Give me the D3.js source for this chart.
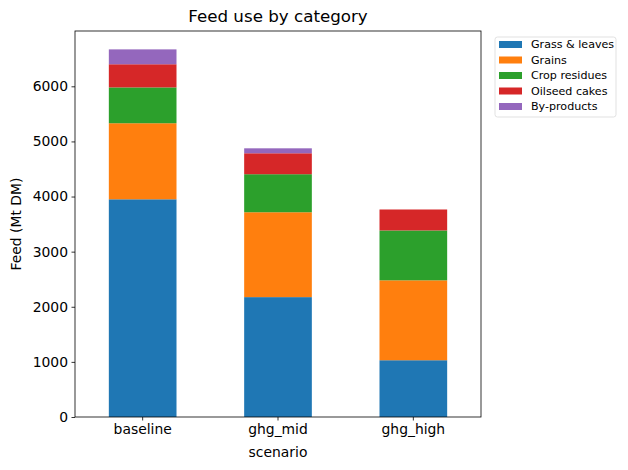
<!DOCTYPE html>
<html>
<head>
<meta charset="utf-8">
<script src="https://cdn.jsdelivr.net/npm/d3@7"></script>
<style>
  body { margin: 0; background: #fff; }
  text { font-family: "DejaVu Sans", sans-serif; }
</style>
</head>
<body>
<svg id="chart" width="628" height="470"></svg>
<script>
const scenarios = ['baseline', 'ghg_mid', 'ghg_high'];
const categories = ['Grass & leaves', 'Grains', 'Crop residues', 'Oilseed cakes', 'By-products'];
const colors = ['#1f77b4', '#ff7f0e', '#2ca02c', '#d62728', '#9467bd'];
const grassLeaves = [3950, 2175, 1030];
const grains = [1380, 1540, 1450];
const cropResidues = [650, 690, 905];
const oilseedCakes = [420, 380, 380];
const byProducts = [270, 90, 0];
const yTicks = [0, 1000, 2000, 3000, 4000, 5000, 6000];

const series = [grassLeaves, grains, cropResidues, oilseedCakes, byProducts];
const rows = scenarios.map((s, i) => {
  const r = { scenario: s };
  categories.forEach((c, j) => { r[c] = series[j][i]; });
  return r;
});

const svg = d3.select('#chart');
const margin = { left: 75, right: 147, top: 31, bottom: 53 };
const W = 628, H = 470;

const stacked = d3.stack().keys(categories)(rows);
const maxTotal = d3.max(rows, r => d3.sum(categories, c => r[c]));

const x = d3.scaleBand().domain(scenarios)
  .range([margin.left, W - margin.right])
  .paddingInner(0.5).paddingOuter(0.25);
const y = d3.scaleLinear().domain([0, maxTotal * 1.05])
  .range([H - margin.bottom, margin.top]);

const color = d3.scaleOrdinal().domain(categories).range(colors);

// bars
svg.append('g').selectAll('g')
  .data(stacked)
  .join('g')
  .attr('fill', d => color(d.key))
  .selectAll('rect')
  .data(d => d)
  .join('rect')
  .attr('x', d => x(d.data.scenario))
  .attr('width', x.bandwidth())
  .attr('y', d => y(d[1]))
  .attr('height', d => y(d[0]) - y(d[1]));

// axes
const yAxis = svg.append('g')
  .attr('transform', `translate(${margin.left},0)`)
  .call(d3.axisLeft(y).tickValues(yTicks).tickFormat(d3.format('d')).tickSize(3.5).tickPadding(3.5));
const xAxis = svg.append('g')
  .attr('transform', `translate(0,${H - margin.bottom})`)
  .call(d3.axisBottom(x).tickSize(3.5).tickPadding(3.5));
[yAxis, xAxis].forEach(a => {
  a.select('.domain').remove();
  a.selectAll('line').attr('stroke', '#000').attr('stroke-width', 0.8);
  a.selectAll('text').attr('font-size', 13.9).attr('fill', '#000')
    .style('font-family', '"DejaVu Sans", sans-serif');
});

// frame
svg.append('rect')
  .attr('x', margin.left).attr('y', margin.top)
  .attr('width', W - margin.right - margin.left)
  .attr('height', H - margin.bottom - margin.top)
  .attr('fill', 'none').attr('stroke', '#000').attr('stroke-width', 0.8);

// titles
svg.append('text')
  .attr('x', (margin.left + W - margin.right) / 2).attr('y', 22)
  .attr('text-anchor', 'middle').attr('font-size', 16.7)
  .text('Feed use by category');
svg.append('text')
  .attr('x', (margin.left + W - margin.right) / 2).attr('y', 457)
  .attr('text-anchor', 'middle').attr('font-size', 13.9)
  .text('scenario');
svg.append('text')
  .attr('transform', `translate(21,${(margin.top + H - margin.bottom) / 2}) rotate(-90)`)
  .attr('text-anchor', 'middle').attr('font-size', 13.9)
  .text('Feed (Mt DM)');

// legend
const legend = svg.append('g').attr('transform', 'translate(495,37)');
legend.append('rect')
  .attr('width', 121).attr('height', 80).attr('rx', 2.5)
  .attr('fill', '#fff').attr('stroke', '#d9d9d9').attr('stroke-width', 0.8);
const items = legend.selectAll('g.item')
  .data(categories)
  .join('g')
  .attr('class', 'item')
  .attr('transform', (d, i) => `translate(4,${7.5 + i * 15.5})`);
items.append('rect')
  .attr('width', 23).attr('height', 7).attr('y', -3.5)
  .attr('fill', d => color(d));
items.append('text')
  .attr('x', 32).attr('dy', '0.35em').attr('font-size', 11.1)
  .text(d => d);
</script>
</body>
</html>
